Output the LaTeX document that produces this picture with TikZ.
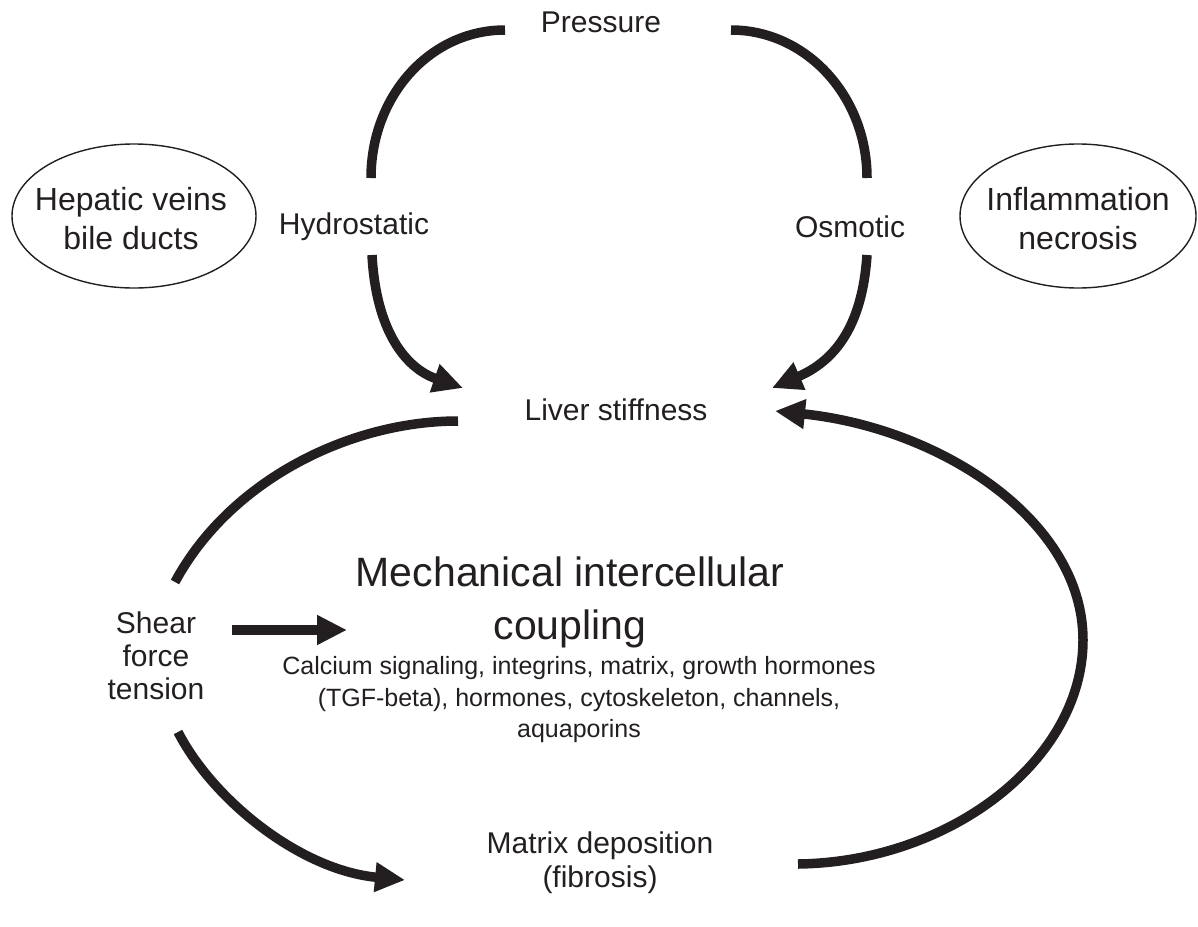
\documentclass[tikz,border=0pt]{standalone}
\usepackage{fontspec}
\setmainfont{Liberation Sans}
\usetikzlibrary{arrows.meta}
\definecolor{ink}{HTML}{231F20}
\begin{document}
\begin{tikzpicture}[x=1pt,y=-1pt,
  lbl/.style={font=\fontsize{30}{34}\selectfont, align=center, inner sep=0pt, text=ink},
  ovaltxt/.style={align=center, inner sep=0pt, font=\fontsize{32}{39}\selectfont, text=ink},
  oval/.style={draw=ink, line width=1.4pt},
  bigtxt/.style={font=\fontsize{41}{53}\selectfont, align=center, inner sep=0pt, text=ink},
  smalltxt/.style={font=\fontsize{25}{31.5}\selectfont, align=center, inner sep=0pt, text=ink},
  band/.style={line width=9.5pt, draw=ink},
  headarrow/.style={band, -{Triangle[length=30pt,width=28pt]}}]
\useasboundingbox (0,0) rectangle (1198,926);

% text nodes
\node[lbl] (press) at (601,22) {Pressure};
\node[lbl] (hydro) at (354,227) {Hydrostatic};
\node[lbl] (osmo) at (850,227) {Osmotic};
\node[ovaltxt] (hep) at (131,219) {Hepatic veins\\bile ducts};
\node[ovaltxt] (infl) at (1078,219) {Inflammation\\necrosis};
\draw[oval] (134,216) ellipse [x radius=122, y radius=72];
\draw[oval] (1078,216) ellipse [x radius=118, y radius=72];
\node[lbl] (liver) at (616,410) {Liver stiffness};
\node[bigtxt] (mech) at (570,602) {Mechanical intercellular\\coupling};
\node[smalltxt] (calc) at (579,700) {Calcium signaling, integrins, matrix, growth hormones\\(TGF-beta), hormones, cytoskeleton, channels,\\aquaporins};
\node[lbl, font=\fontsize{30}{33}\selectfont] (shear) at (156,656) {Shear\\force\\tension};
\node[lbl] (matrix) at (600,863) {Matrix deposition\\(fibrosis)};

% connector end points
\coordinate (hydroTop) at (371,178);
\coordinate (pressL) at (505,30);
\coordinate (pressR) at (731,30);
\coordinate (osmoTop) at (867,178);
\coordinate (hydroBot) at (372,255);
\coordinate (liverL) at (463,388);
\coordinate (osmoBot) at (867,255);
\coordinate (liverR) at (772,388);
\coordinate (liverArc) at (458,421);
\coordinate (shearTop) at (175,582);
\coordinate (shearBot) at (178,732);
\coordinate (matrixL) at (405,880);
\coordinate (matrixR) at (798,864);
\coordinate (farRight) at (1083,640);
\coordinate (liverRR) at (775,411);
\coordinate (shearR) at (232,630);
\coordinate (mechL) at (347,630);

% connectors
\draw[band] (hydroTop) .. controls (371,96) and (430,30) .. (pressL);
\draw[band] (pressR) .. controls (806,30) and (867,96) .. (osmoTop);
\draw[headarrow] (hydroBot) .. controls (376,330) and (405,368) .. (liverL);
\draw[headarrow] (osmoBot) .. controls (862,330) and (832,362) .. (liverR);
\draw[band] (liverArc) .. controls (350,421) and (230,480) .. (shearTop);
\draw[headarrow] (shearBot) .. controls (213,800) and (300,870) .. (matrixL);
\draw[headarrow] (matrixR) .. controls (950,862) and (1083,760) .. (farRight)
  .. controls (1083,520) and (940,428) .. (liverRR);
\draw[headarrow] (shearR) -- (mechL);
\end{tikzpicture}
\end{document}
